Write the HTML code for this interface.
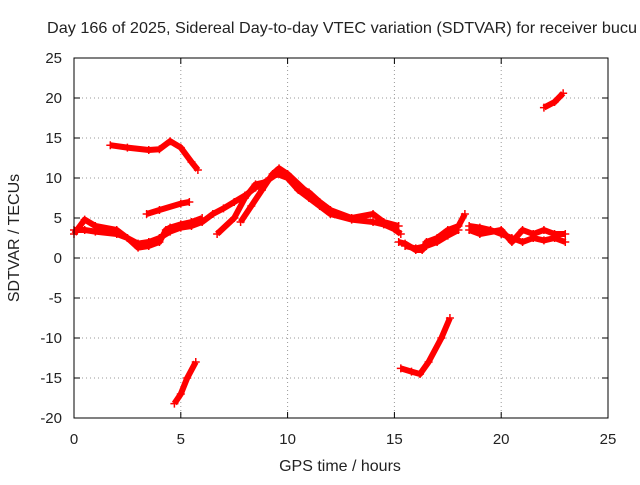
<!DOCTYPE html>
<html><head><meta charset="utf-8"><style>
body{margin:0;background:#fff}
svg text{font-family:"Liberation Sans",sans-serif;font-size:15px;fill:#222}
</style></head><body>
<svg id="chart" width="640" height="480">
<text x="47" y="33" textLength="590" lengthAdjust="spacingAndGlyphs" style="font-size:16px">Day 166 of 2025, Sidereal Day-to-day VTEC variation (SDTVAR) for receiver bucu</text>
<text x="340" y="471" text-anchor="middle" style="font-size:16px">GPS time / hours</text>
<text transform="translate(19,238) rotate(-90)" text-anchor="middle" style="font-size:16px">SDTVAR / TECUs</text>
<g id="grid"></g><g id="ticks"></g><g id="series"></g>
<rect x="74" y="58" width="534" height="360" fill="none" stroke="#000"/>
</svg>
<script>
const xTicks=[0,5,10,15,20,25];
const yTicks=[25,20,15,10,5,0,-5,-10,-15,-20];
const trackUpper=[[1.7,14.1],[2.5,13.8],[3.5,13.5],[4.0,13.6],[4.5,14.6],[5.0,13.8],[5.5,12.0],[5.8,11.0]];
const trackLowerA=[[4.7,-18.2],[5.0,-17],[5.3,-15],[5.7,-13]];
const trackTopRight=[[22.0,18.8],[22.5,19.5],[22.9,20.6]];
const trackLowerB=[[15.3,-13.8],[15.8,-14.2],[16.2,-14.5],[16.6,-13],[17.2,-10],[17.6,-7.5]];
const trackMain1=[[0,3.5],[0.5,3.5],[1,3.3],[2,3.0],[2.5,2.5],[3,1.8],[3.5,2.0],[4,2.5],[4.5,3.3],[5,3.8],[5.5,4.0],[6,4.5],[6.5,5.5],[7,6.2],[7.5,7.0],[8,7.8],[8.5,8.8],[9,9.6],[9.5,10.5],[10,10],[10.5,8.5],[11,7.5],[11.5,6.5],[12,5.5],[13,4.8],[14,4.5],[14.5,4.2],[15,3.6],[15.3,3.0]];
const trackMain2=[[0,3.0],[0.5,4.8],[1,4.0],[2,3.5],[2.5,2.5],[3,1.3],[3.5,1.5],[4,2.0],[4.3,3.5],[4.5,3.8],[5,4.2],[5.5,4.5],[6,5.0]];
const trackMid=[[3.4,5.5],[4,6.0],[5,6.8],[5.4,7.0]];
const trackRise1=[[6.7,3],[7.5,5],[8,7.5],[8.5,9.2],[9,9.5],[9.5,10.8],[10,10.2],[10.5,9],[11,8.2],[11.5,7],[12,6]];
const trackRise2=[[7.8,4.5],[8.3,6.5],[8.8,8.5],[9.3,10.5],[9.6,11.2],[10,10.5],[11,8],[12,6],[13,5],[14,5.5],[14.5,4.5],[15.2,4]];
const trackEve1=[[15.2,2],[15.5,1.8],[16,1.0],[16.3,1],[16.5,2],[17,2.5],[17.5,3.5],[18,4],[18.3,5.5]];
const trackEve2=[[15.5,1.5],[16,1.2],[16.5,1.5],[17,2.0],[17.5,2.8],[18,3.5]];
const trackLate1=[[18.5,4],[19,3.8],[19.5,3.5],[20,3],[20.5,2.5],[21,2],[21.5,2.5],[22,2.2],[22.5,2.5],[23,2.0]];
const trackLate2=[[18.5,3.5],[19,3],[20,3.5],[20.5,2],[21,3.5],[21.5,3],[22,3.5],[22.5,3],[23,3]];
const tracks=[trackUpper,trackLowerA,trackTopRight,trackLowerB,trackMain1,trackMain2,trackMid,trackRise1,trackRise2,trackEve1,trackEve2,trackLate1,trackLate2];
const X=v=>74+v/25*534, Y=v=>58+(25-v)/45*360;
const NS="http://www.w3.org/2000/svg";
function mk(t,a,p){const e=document.createElementNS(NS,t);for(const k in a)e.setAttribute(k,a[k]);p.appendChild(e);return e;}
const g=document.getElementById('grid'),tk=document.getElementById('ticks'),s=document.getElementById('series');
xTicks.forEach(v=>{const x=X(v);
 if(v>0&&v<25){const l=mk('line',{x1:x,x2:x,y1:58,y2:418,stroke:'#999','stroke-dasharray':'1,3'},g);
 
 }
 mk('line',{x1:x,x2:x,y1:418,y2:412,stroke:'#000'},tk);mk('line',{x1:x,x2:x,y1:58,y2:64,stroke:'#000'},tk);
 const t=mk('text',{x:x,y:444,'text-anchor':'middle'},tk);t.textContent=v;
 
 });
yTicks.forEach(v=>{const y=Y(v);
 if(v<25&&v>-20){const l=mk('line',{x1:74,x2:608,y1:y,y2:y,stroke:'#999','stroke-dasharray':'1,3'},g);
 
 }
 mk('line',{x1:74,x2:80,y1:y,y2:y,stroke:'#000'},tk);mk('line',{x1:602,x2:608,y1:y,y2:y,stroke:'#000'},tk);
 const t=mk('text',{x:62,y:y+5,'text-anchor':'end'},tk);t.textContent=v;
 
 });
tracks.forEach(tr=>{
 const p=mk('polyline',{points:tr.map(d=>X(d[0])+','+Y(d[1])).join(' '),fill:'none',stroke:'#f00','stroke-width':6,'stroke-linejoin':'round'},s);
 
 
 tr.forEach(d=>{const x=X(d[0]),y=Y(d[1]);
  const m=mk('path',{d:`M${x-4},${y}h8M${x},${y-4}v8`,stroke:'#f00','stroke-width':1.5},s);
  
  });
});
</script>
</body></html>
